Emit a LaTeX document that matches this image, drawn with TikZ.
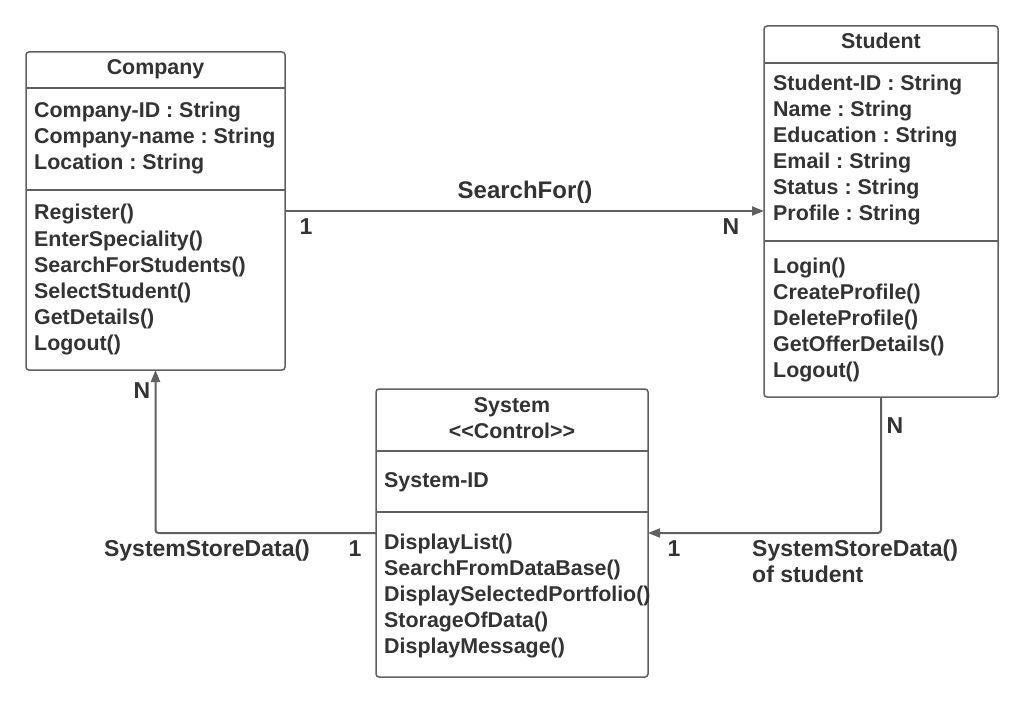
\documentclass[tikz,border=0pt]{standalone}
\usepackage{fontspec}
\setmainfont{Liberation Sans}
\frenchspacing
\usetikzlibrary{arrows.meta}
\definecolor{ink}{HTML}{333333}
\definecolor{edgec}{HTML}{606060}
\begin{document}
\begin{tikzpicture}[x=1pt,y=-1pt,
 box/.style={draw=edgec,line width=1.5pt,rounded corners=3pt,inner sep=0pt,outer sep=0pt,rectangle,fill=white},
 sepline/.style={draw=edgec,line width=1.3pt},
 txt/.style={inner sep=0pt,anchor=base west,text=ink,font=\fontsize{21.4}{24}\selectfont\bfseries},
 ctr/.style={txt,anchor=base},
 lbl/.style={inner sep=0pt,anchor=base,text=ink,font=\fontsize{23}{26}\selectfont\bfseries},
 conn/.style={draw=edgec,line width=2pt,rounded corners=3pt,-{Triangle[length=12pt,width=9pt]}},
]
\useasboundingbox (0,0) rectangle (1024,703);
\fill[white] (0,0) rectangle (1024,703);

% Company
\node[box,minimum width=259pt,minimum height=318pt] (company) at (155.5,211) {};
\draw[sepline] (company.west |- 0,88) -- (company.east |- 0,88);
\draw[sepline] (company.west |- 0,190) -- (company.east |- 0,190);
\node[ctr] (companyT) at (155.5,75) {Company};
\foreach \t [count=\i] in {Company-ID : String,Company-name : String,Location : String}
  \node[txt] (cA\i) at (34,{118+26*(\i-1)}) {\t};
\foreach \t [count=\i] in {Register(),EnterSpeciality(),SearchForStudents(),SelectStudent(),GetDetails(),Logout()}
  \node[txt] (cM\i) at (34,{220+26*(\i-1)}) {\t};

% Student
\node[box,minimum width=234pt,minimum height=371pt] (student) at (881,211.5) {};
\draw[sepline] (student.west |- 0,63) -- (student.east |- 0,63);
\draw[sepline] (student.west |- 0,241) -- (student.east |- 0,241);
\node[ctr] (studentT) at (881,49) {Student};
\foreach \t [count=\i] in {Student-ID : String,Name : String,Education : String,Email : String,Status : String,Profile : String}
  \node[txt] (sA\i) at (773,{91+26*(\i-1)}) {\t};
\foreach \t [count=\i] in {Login(),CreateProfile(),DeleteProfile(),GetOfferDetails(),Logout()}
  \node[txt] (sM\i) at (773,{273+26*(\i-1)}) {\t};

% System
\node[box,minimum width=272pt,minimum height=288pt] (system) at (512,533) {};
\draw[sepline] (system.west |- 0,451) -- (system.east |- 0,451);
\draw[sepline] (system.west |- 0,512) -- (system.east |- 0,512);
\node[ctr] (systemT1) at (512,412) {System};
\node[ctr] (systemT2) at (512,438) {<{}<Control>{}>};
\node[txt] (yA1) at (384,487) {System-ID};
\foreach \t [count=\i] in {DisplayList(),SearchFromDataBase(),DisplaySelectedPortfolio(),StorageOfData(),DisplayMessage()}
  \node[txt] (yM\i) at (384,{549+26*(\i-1)}) {\t};

% Connectors
\draw[conn] (company.east) -- (student.west |- company.east);
\node[lbl,font=\fontsize{24}{28}\selectfont\bfseries] (lblSearch) at (525,199) {SearchFor()};
\node[lbl] (m1) at (306,235) {1};
\node[lbl] (m2) at (731,235) {N};

\draw[conn] (system.west) -| (company.south);
\node[lbl] (m3) at (142,398) {N};
\node[lbl] (m4) at (355,556) {1};
\node[lbl] (lblLeft) at (207,556) {SystemStoreData()};

\draw[conn] (student.south) |- (system.east);
\node[lbl] (m5) at (895,433) {N};
\node[lbl] (m6) at (674,556) {1};
\node[lbl,anchor=base west] (lblRight1) at (752,556) {SystemStoreData()};
\node[lbl,anchor=base west] (lblRight2) at (752,582) {of student};
\end{tikzpicture}
\end{document}
